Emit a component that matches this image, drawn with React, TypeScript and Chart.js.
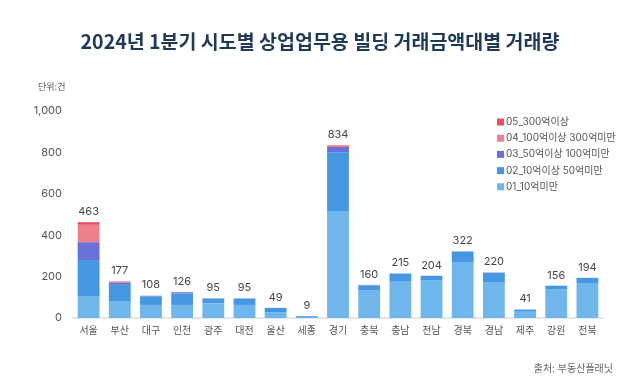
import React, { useEffect, useRef } from "react";
import { Chart, registerables } from "chart.js";

Chart.register(...registerables);

const categories = ["서울", "부산", "대구", "인천", "광주", "대전", "울산", "세종", "경기", "충북", "충남", "전남", "경북", "경남", "제주", "강원", "전북"];
const s01 = [106, 82, 63, 63, 71, 63, 26, 5, 517, 132, 175, 183, 270, 174, 30, 137, 169];
const s02 = [174, 78, 41, 55, 23, 29, 23, 4, 282, 26, 40, 21, 51, 44, 11, 19, 25];
const s03 = [86, 11, 3, 6, 1, 2, 0, 0, 27, 0, 0, 0, 1, 1, 0, 0, 0];
const s04 = [84, 4, 1, 2, 0, 1, 0, 0, 5, 2, 0, 0, 0, 1, 0, 0, 0];
const s05 = [13, 2, 0, 0, 0, 0, 0, 0, 3, 0, 0, 0, 0, 0, 0, 0, 0];
const totals = [463, 177, 108, 126, 95, 95, 49, 9, 834, 160, 215, 204, 322, 220, 41, 156, 194];
const seriesNames = ["01_10억미만", "02_10억이상 50억미만", "03_50억이상 100억미만", "04_100억이상 300억미만", "05_300억이상"];
const seriesColors = ["#6eb6ec", "#4597e2", "#6970d8", "#ef7f8d", "#e8505f"];
const yTicks = [0, 200, 400, 600, 800, 1000];

const FONT = 'Inter, "Noto Sans CJK KR", "Noto Sans", sans-serif';
const TFONT = '"Noto Sans CJK KR", "Noto Sans", sans-serif';

const overlay = {
  id: "overlay",
  afterDatasetsDraw(chart: any) {
    const ctx = chart.ctx;
    const y = chart.scales.y;
    const x = chart.scales.x;
    ctx.save();
    // totals
    ctx.font = `11px ${FONT}`;
    ctx.fillStyle = "#444";
    ctx.textAlign = "center";
    ctx.textBaseline = "bottom";
    totals.forEach((t, i) => {
      ctx.fillText(String(t), x.getPixelForValue(i), y.getPixelForValue(t) - 5);
    });
    // title
    ctx.font = `bold 19.5px ${TFONT}`;
    ctx.fillStyle = "#1f3a57";
    ctx.textAlign = "center";
    ctx.textBaseline = "middle";
    ctx.fillText("2024년 1분기 시도별 상업업무용 빌딩 거래금액대별 거래량", 320, 42);
    // unit
    ctx.font = `9px ${FONT}`;
    ctx.fillStyle = "#555";
    ctx.textAlign = "left";
    ctx.fillText("단위:건", 38, 87);
    // source
    ctx.font = `10px ${FONT}`;
    ctx.fillStyle = "#666";
    ctx.textAlign = "right";
    ctx.fillText("출처: 부동산플래닛", 613, 369);
    // legend
    ctx.textAlign = "left";
    ctx.font = `10px ${FONT}`;
    for (let k = 4; k >= 0; k--) {
      const yy = 122 + (4 - k) * 16.2;
      ctx.fillStyle = seriesColors[k];
      ctx.fillRect(497, yy - 3.5, 7, 7);
      ctx.fillStyle = "#555";
      ctx.fillText(seriesNames[k], 506, yy);
    }
    ctx.restore();
  },
};

export default function App() {
  const ref = useRef<HTMLCanvasElement>(null);
  useEffect(() => {
    if (!ref.current) return;
    const data = [s01, s02, s03, s04, s05];
    const chart = new Chart(ref.current, {
      type: "bar",
      data: {
        labels: categories,
        datasets: data.map((d, k) => ({
          label: seriesNames[k],
          data: d,
          backgroundColor: seriesColors[k],
          borderWidth: 0,
          barPercentage: 0.7,
          categoryPercentage: 1,
        })),
      },
      plugins: [overlay],
      options: {
        responsive: false,
        animation: false,
        layout: { padding: { top: 111, bottom: 41, left: 0, right: 37 } },
        plugins: { legend: { display: false }, tooltip: { enabled: false }, title: { display: false } },
        scales: {
          x: {
            stacked: true,
            grid: { display: false, drawTicks: false },
            border: { display: true, color: "#e6e6e6", width: 2 },
            ticks: { color: "#555", font: { family: FONT, size: 10 }, padding: 7, maxRotation: 0, autoSkip: false },
          },
          y: {
            stacked: true,
            min: 0,
            max: 1000,
            afterFit: (s: any) => { s.width = 73; },
            grid: { display: false, drawTicks: false },
            border: { display: false },
            afterBuildTicks: (s: any) => { s.ticks = yTicks.map((v) => ({ value: v })); },
            ticks: {
              color: "#555",
              padding: 11,
              font: { family: FONT, size: 11 },
              callback: (v: any) => Number(v).toLocaleString("en-US"),
            },
          },
        },
      },
    });
    return () => chart.destroy();
  }, []);
  return (
    <div style={{ position: "absolute", left: 0, top: 0, width: 640, height: 385, background: "#fff" }}>
      <canvas ref={ref} width={640} height={385} style={{ width: 640, height: 385 }} />
    </div>
  );
}
